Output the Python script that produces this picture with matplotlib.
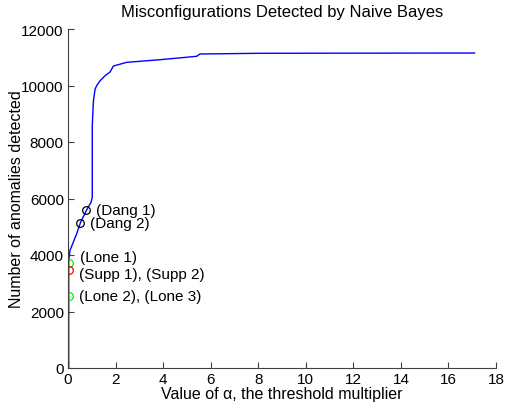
import matplotlib
matplotlib.use("Agg")
import matplotlib.pyplot as plt

alpha = [0.03, 0.03, 0.04, 0.08, 0.22, 0.36, 0.53, 0.79, 0.97, 1.02, 1.02, 1.07, 1.14, 1.21, 1.35,
         1.56, 1.77, 1.91, 2.47, 3.87, 5.41, 5.55, 8.07, 17.1]
detected = [0, 3700, 3858, 4152, 4450, 4743, 5157, 5604, 5866, 6042, 8577, 9460, 9876, 10000, 10170,
            10347, 10480, 10690, 10820, 10913, 11033, 11115, 11140, 11150]

points = ["(Dang 1)", "(Dang 2)", "(Lone 1)", "(Supp 1), (Supp 2)", "(Lone 2), (Lone 3)"]
pt_x = [0.77, 0.52, 0.06, 0.05, 0.05]
pt_y = [5600, 5140, 3720, 3470, 2550]
pt_colors = ["black", "black", "#00ee00", "red", "#00ee00"]
label_x = [1.18, 0.93, 0.50, 0.46, 0.46]
label_y = [5600, 5140, 3930, 3330, 2550]

plt.rcParams['font.family'] = ['Liberation Sans', 'DejaVu Sans']
fig = plt.figure(figsize=(5.05, 4.06), dpi=100)
ax = fig.add_axes([68/505, 1 - 369/406, (496-68)/505, (369-30)/406])
ax.plot(alpha, detected, color='blue', lw=1)
for x, y, c in zip(pt_x, pt_y, pt_colors):
    ax.plot(x, y, 'o', mfc='none', mec=c, ms=5.5, mew=0.9)
for t, x, y in zip(points, label_x, label_y):
    ax.text(x, y, t, fontsize=11, va='center', ha='left')

ax.set_xlim(0, 18)
ax.set_ylim(0, 12000)
ax.set_xticks(range(0, 19, 2))
ax.set_yticks(range(0, 12001, 2000))
for s in ['top', 'right']:
    ax.spines[s].set_visible(False)
for s in ['left', 'bottom']:
    ax.spines[s].set_color('#404040')
ax.tick_params(direction='in', length=4, labelsize=11, colors='#404040', labelcolor='black', pad=3)
ax.set_xlabel("Value of \u03b1, the threshold multiplier", fontsize=11.5, labelpad=0)
ax.yaxis.set_label_coords(-44/428, 0.5)
ax.set_ylabel("Number of anomalies detected", fontsize=11.5)
ax.set_title("Misconfigurations Detected by Naive Bayes", fontsize=12, pad=9)
fig.savefig("out.png", dpi=100)
